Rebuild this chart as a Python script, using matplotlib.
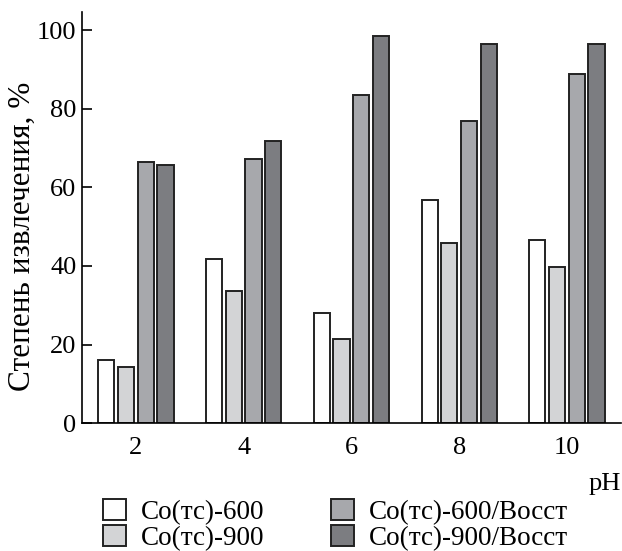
import numpy as np
import matplotlib
matplotlib.use("Agg")
import matplotlib.pyplot as plt

plt.rcParams['font.family'] = ['Liberation Serif', 'DejaVu Serif']

# data
ph = [2, 4, 6, 8, 10]
labels = ["Co(тс)-600", "Co(тс)-900", "Co(тс)-600/Восст", "Co(тс)-900/Восст"]
co600 = [16.0, 41.9, 28.1, 56.9, 46.5]
co900 = [14.2, 33.7, 21.5, 45.8, 39.8]
co600_red = [66.5, 67.3, 83.6, 77.0, 88.8]
co900_red = [65.7, 71.9, 98.5, 96.6, 96.6]
series = [co600, co900, co600_red, co900_red]
colors = ["#ffffff", "#d3d4d6", "#a7a8ac", "#7c7d81"]

fig = plt.figure(figsize=(6.22, 5.51), dpi=100)
ax = fig.add_axes([0.132, 0.232, 0.866, 0.746])

x = np.array(ph, dtype=float)
pitch = 0.366
width = 0.30
for i, (vals, c) in enumerate(zip(series, colors)):
    ax.bar(x + (i - 1.5) * pitch, vals, width=width, color=c,
           edgecolor="#222222", linewidth=1.4, label=labels[i])

ax.set_xlim(1, 11)
ax.set_ylim(0, 104.6)
ax.set_xticks(ph)
ax.set_yticks([0, 20, 40, 60, 80, 100])
ax.tick_params(axis='y', direction='in', length=7, width=1.2, labelsize=19, pad=4)
ax.tick_params(axis='x', length=0, labelsize=19, pad=10)
for s in ['top', 'right']:
    ax.spines[s].set_visible(False)
for s in ['left', 'bottom']:
    ax.spines[s].set_linewidth(1.2)

ax.set_ylabel("Степень извлечения, %", fontsize=22.5)
ax.yaxis.set_label_coords(-0.084, 0.455)
fig.text(0.998, 0.122, "pH", fontsize=19, ha='right', va='center')

fig.legend(loc='upper left', bbox_to_anchor=(0.165, 0.094), ncol=2, frameon=False,
           fontsize=19.5, handlelength=0.86, handleheight=0.8, handletextpad=0.55,
           labelspacing=0.0, columnspacing=2.45, borderpad=0.0, borderaxespad=0.0)

fig.savefig("out.png", dpi=100)
